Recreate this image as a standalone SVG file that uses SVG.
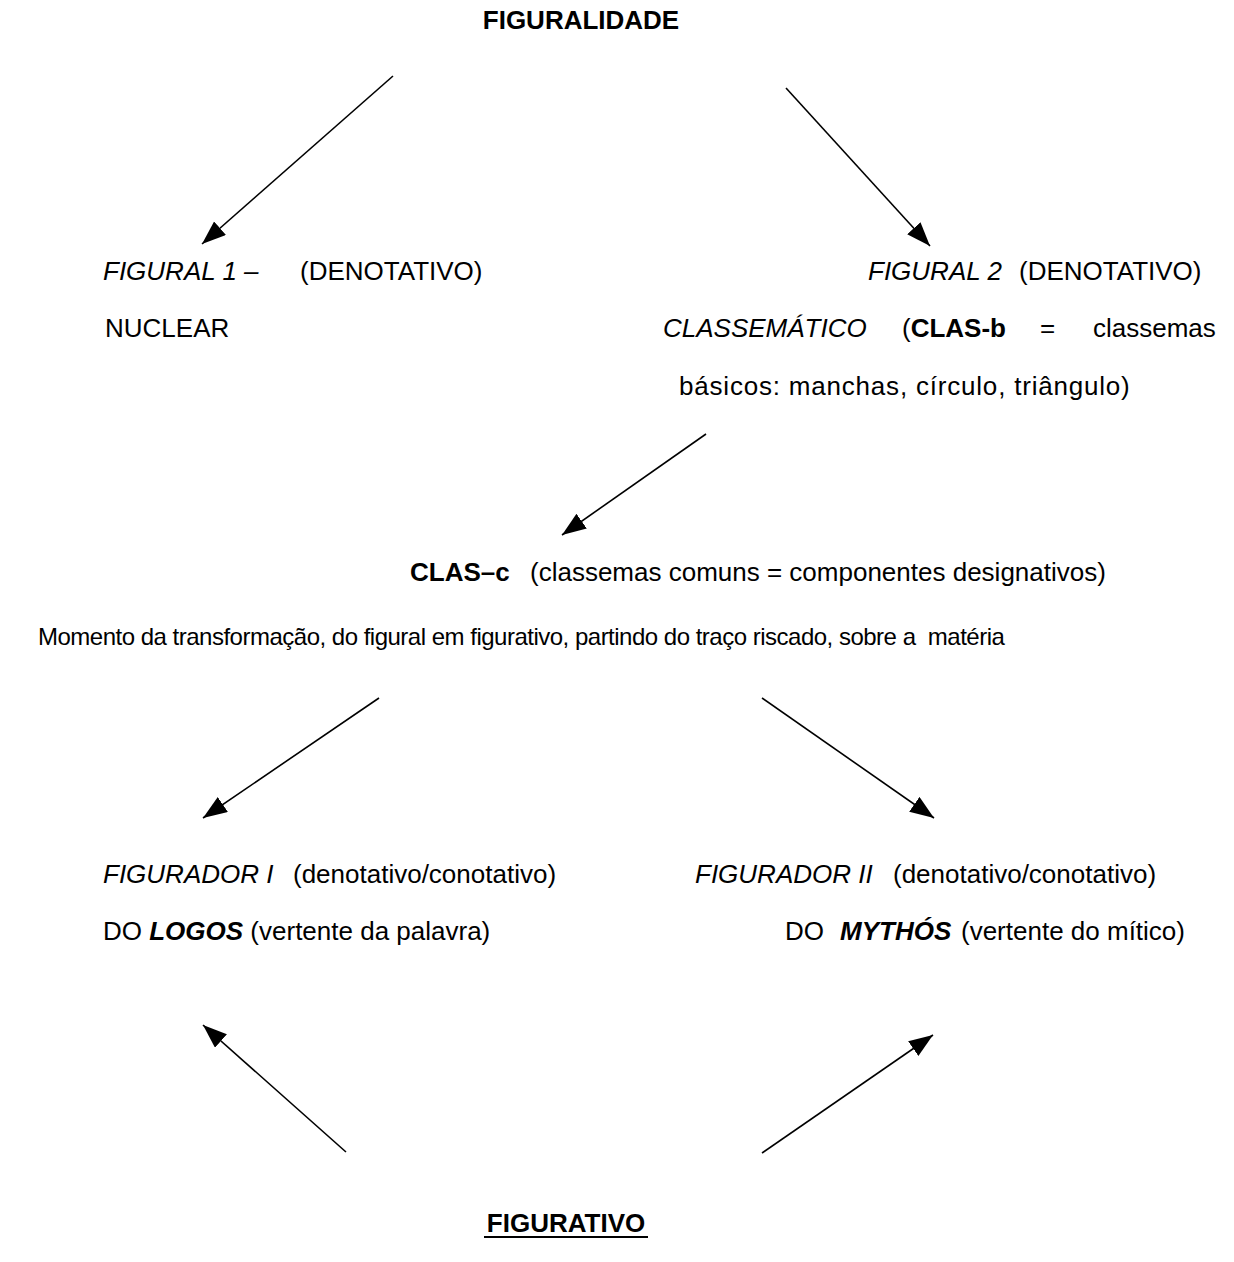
<svg xmlns="http://www.w3.org/2000/svg" width="1234" height="1262" viewBox="0 0 1234 1262">
<style>
text{font-family:"Liberation Sans",Arial,sans-serif;font-size:26px;fill:#000}
.b{font-weight:bold}
.i{font-style:italic}
.sm{font-size:24px;letter-spacing:-0.5px}
.conn line{stroke:#000;stroke-width:1.6;fill:none}
</style>
<defs>
<marker id="ah" markerUnits="userSpaceOnUse" markerWidth="26" markerHeight="20" refX="24" refY="9" orient="auto" viewBox="0 0 26 20">
<path d="M0,0 L24,9 L0,18 Z" fill="#000"/>
</marker>
</defs>
<rect width="1234" height="1262" fill="#fff"/>
<g id="figuralidade"><text x="581" y="29" text-anchor="middle" class="b">FIGURALIDADE</text></g>
<g id="figural1">
<text x="103" y="280" class="i">FIGURAL 1 –</text>
<text x="300" y="280">(DENOTATIVO)</text>
<text x="105" y="337">NUCLEAR</text>
</g>
<g id="figural2">
<text x="868" y="280" class="i">FIGURAL 2</text>
<text x="1019" y="280">(DENOTATIVO)</text>
<text x="663" y="337" class="i">CLASSEMÁTICO</text>
<text x="902" y="337">(<tspan class="b">CLAS-b</tspan></text>
<text x="1040" y="337">=</text>
<text x="1093" y="337">classemas</text>
<text x="679" y="395" letter-spacing="0.8">básicos: manchas, círculo, triângulo)</text>
</g>
<g id="clas-c">
<text x="410" y="581" class="b">CLAS–c</text>
<text x="530" y="581">(classemas comuns = componentes designativos)</text>
</g>
<g id="momento"><text x="38" y="645" class="sm" xml:space="preserve">Momento da transformação, do figural em figurativo, partindo do traço riscado, sobre a  matéria</text></g>
<g id="figurador1">
<text x="103" y="883" class="i">FIGURADOR I</text>
<text x="293" y="883">(denotativo/conotativo)</text>
<text x="103" y="940" xml:space="preserve">DO <tspan class="b i">LOGOS</tspan> (vertente da palavra)</text>
</g>
<g id="figurador2">
<text x="695" y="883" class="i">FIGURADOR II</text>
<text x="893" y="883">(denotativo/conotativo)</text>
<text x="785" y="940">DO</text>
<text x="840" y="940" class="b i">MYTHÓS</text>
<text x="961" y="940">(vertente do mítico)</text>
</g>
<g id="figurativo">
<text x="566" y="1232" text-anchor="middle" class="b">FIGURATIVO</text>
<line x1="484" y1="1237" x2="648" y2="1237" stroke="#000" stroke-width="2"/>
</g>
<g class="conn" id="connectors">
<line x1="393" y1="76" x2="202" y2="244" marker-end="url(#ah)"/>
<line x1="786" y1="88" x2="930" y2="246" marker-end="url(#ah)"/>
<line x1="706" y1="434" x2="562" y2="535" marker-end="url(#ah)"/>
<line x1="379" y1="698" x2="203" y2="818" marker-end="url(#ah)"/>
<line x1="762" y1="698" x2="934" y2="818" marker-end="url(#ah)"/>
<line x1="346" y1="1152" x2="203" y2="1025" marker-end="url(#ah)"/>
<line x1="762" y1="1153" x2="933" y2="1035" marker-end="url(#ah)"/>
</g>
</svg>
